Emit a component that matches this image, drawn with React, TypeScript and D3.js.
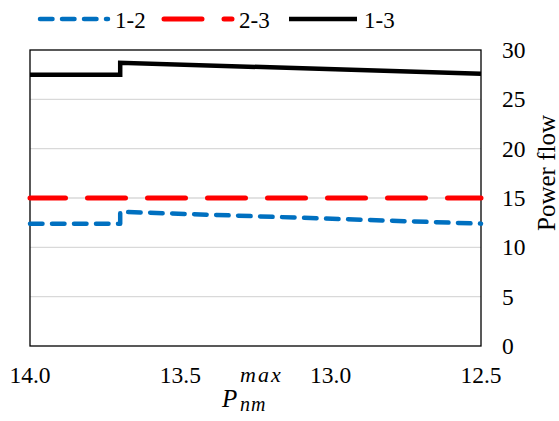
import React, { useEffect, useRef } from "react";
import * as d3 from "d3";

const xValues = [14.0, 13.7, 13.7, 12.5];
const flow12 = [12.4, 12.4, 13.6, 12.4];
const flow23 = [15, 15, 15, 15];
const flow13 = [27.5, 27.5, 28.7, 27.6];
const seriesNames = ["1-2", "2-3", "1-3"];
const xTicks = [14.0, 13.5, 13.0, 12.5];
const yTicks = [0, 5, 10, 15, 20, 25, 30];

const W = 559;
const H = 421;
const L = 30, R = 481, T = 50, B = 346;
const FONT = '"Liberation Serif", "Times New Roman", Tinos';

export default function App() {
  const ref = useRef<SVGSVGElement | null>(null);
  const x = d3.scaleLinear().domain([14.0, 12.5]).range([L, R]);
  const y = d3.scaleLinear().domain([0, 30]).range([B, T]);
  const line = d3
    .line<[number, number]>()
    .x((d) => x(d[0]))
    .y((d) => y(d[1]));
  const pts = (vals: number[]) => xValues.map((xv, i) => [xv, vals[i]] as [number, number]);

  useEffect(() => {
    if (!ref.current) return;
    d3.select(ref.current)
      .selectAll<SVGTextElement, unknown>("text")
      .each(function () {
        this.style.setProperty("font-family", FONT, "important");
      });
  }, []);

  const styles = [
    { color: "#0070C0", width: 4.5, dash: "12.5 9.5", offset: 0, cap: "round" as const, join: "round" as const },
    { color: "#FF0000", width: 5, dash: "38 22", offset: 2.5, cap: "round" as const, join: "round" as const },
    { color: "#000000", width: 4.5, dash: "none", offset: 0, cap: "butt" as const, join: "miter" as const },
  ];
  const data = [flow12, flow23, flow13];
  const legendX = [38, 162, 287];

  return (
    <svg
      ref={ref}
      id="chart"
      width={W}
      height={H}
      style={{ position: "absolute", left: 0, top: 0, fontFamily: FONT }}
    >
      <style>{`#chart text { font-family: ${FONT} !important; }`}</style>
      <rect x={0} y={0} width={W} height={H} fill="#fff" />
      {yTicks.filter((t) => t > 0 && t < 30).map((t) => (
        <line key={t} x1={L} x2={R} y1={y(t)} y2={y(t)} stroke="#d9d9d9" strokeWidth={1.3} />
      ))}
      <rect x={L} y={T} width={R - L} height={B - T} fill="none" stroke="#000" strokeWidth={1.3} />
      {data.map((vals, i) => (
        <path
          key={i}
          d={line(pts(vals)) || ""}
          fill="none"
          stroke={styles[i].color}
          strokeWidth={styles[i].width}
          strokeDasharray={styles[i].dash}
          strokeDashoffset={styles[i].offset}
          strokeLinecap={styles[i].cap}
          strokeLinejoin={styles[i].join}
        />
      ))}
      <g>
        {yTicks.map((t) => (
          <text key={"y" + t} x={502} y={y(t) + 8} style={{ fontFamily: FONT, fontSize: 23.5 }}>
            {String(t)}
          </text>
        ))}
        {xTicks.map((t) => (
          <text key={"x" + t} x={x(t)} y={383} textAnchor="middle" style={{ fontFamily: FONT, fontSize: 23.5 }}>
            {t.toFixed(1)}
          </text>
        ))}
        <text transform="translate(555,173) rotate(-90)" textAnchor="middle" style={{ fontFamily: FONT, fontSize: 25 }}>
          Power flow
        </text>
        <text x={222} y={407} style={{ fontFamily: FONT, fontSize: 25, fontStyle: "italic" }}>
          P
        </text>
        <text x={240} y={382} letterSpacing={2} style={{ fontFamily: FONT, fontSize: 22, fontStyle: "italic" }}>
          max
        </text>
        <text x={240} y={411} letterSpacing={1} style={{ fontFamily: FONT, fontSize: 20, fontStyle: "italic" }}>
          nm
        </text>
        {seriesNames.map((name, i) => (
          <text key={"l" + name} x={legendX[i] + 77} y={28} style={{ fontFamily: FONT, fontSize: 23 }}>
            {name}
          </text>
        ))}
      </g>
      {seriesNames.map((name, i) => (
        <line
          key={"s" + name}
          x1={legendX[i] + 2}
          x2={legendX[i] + 70}
          y1={19}
          y2={19}
          stroke={styles[i].color}
          strokeWidth={styles[i].width}
          strokeDasharray={styles[i].dash}
          strokeLinecap={styles[i].cap}
        />
      ))}
    </svg>
  );
}
